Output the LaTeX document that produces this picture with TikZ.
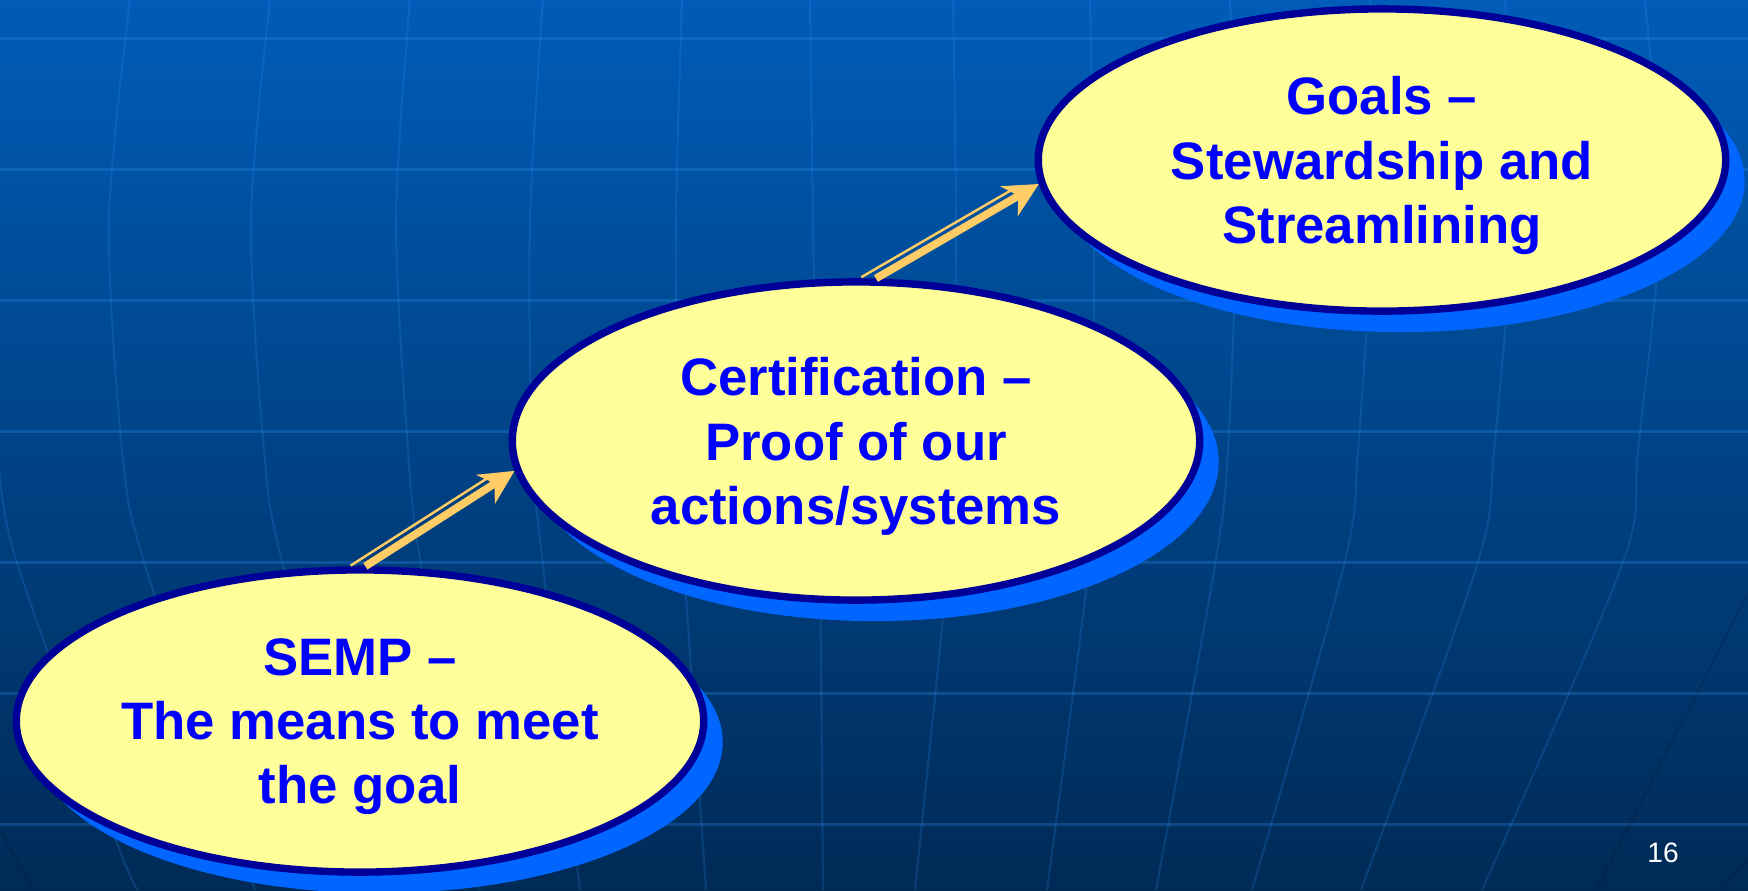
\documentclass[tikz,border=0pt]{standalone}
\usepackage{fontspec}
\setmainfont{Liberation Sans}
\usepackage{tikz}
\usetikzlibrary{shapes.geometric, calc, shadows}
\usetikzlibrary{arrows.meta}
\definecolor{bgtop}{HTML}{005CB8}
\definecolor{bgbot}{HTML}{002A56}
\definecolor{gridblue}{HTML}{3399FF}
\definecolor{ovalfill}{HTML}{FFFF99}
\definecolor{ovalline}{HTML}{000099}
\definecolor{ovalshade}{HTML}{0066FF}
\definecolor{textblue}{HTML}{0000FF}
\definecolor{arrowgold}{HTML}{FFCC66}
\tikzstyle{arrow} = [line width=2.2pt,arrowgold,-{Stealth[length=9.7pt,width=9.7pt,inset=3pt]}]
\tikzstyle{rail} = [line width=0.7pt,arrowgold]

\begin{document}
\begin{tikzpicture}[x=0.01cm, y=-0.01cm,
  grid/.style = {gridblue,opacity=0.25,line width=0.85pt},
  meridian/.style = {gridblue,opacity=0.18,line width=0.6pt},
  darkline/.style = {black,opacity=0.12,line width=0.6pt},
  stage/.style = {ellipse,draw=ovalline,line width=2.1pt,fill=ovalfill,
        minimum width=6.87cm,minimum height=3.02cm,inner sep=0pt,
        drop shadow={shadow xshift=0.19cm,shadow yshift=-0.21cm,fill=ovalshade,opacity=1},
        text=textblue,font=\fontsize{15}{18.3}\selectfont\bfseries,
        align=center,text depth=-3.6pt}]
 \useasboundingbox (0,0) rectangle (1748,890);
 \shade[top color=bgtop,bottom color=bgbot] (0,0) rectangle (1748,890);
 % background grid
 \foreach \y in {38,169,...,824}
   \draw[grid] (0,\y) -- (1748,\y);
 \foreach \a/\b/\c/\d/\e in {130/109/122/145/255, 270/251/264/283/375,
     410/396/408/421/480, 543/530/532/543/580, 682/676/678/684/706,
     810/813/817/820/823, 953/956/954/948/915, 1090/1094/1093/1089/1047,
     1230/1236/1228/1215/1156, 1370/1372/1358/1344/1252,
     1505/1512/1494/1477/1361, 1645/1660/1638/1622/1482}
   \draw[meridian] plot[smooth] coordinates {(\a,0) (\b,220) (\c,450) (\d,565) (\e,890)};
 \draw[meridian] plot[smooth] coordinates {(0,473) (17,563) (117,843) (138,890)};
 \draw[darkline] (0,830) -- (33,890);
 \draw[darkline] (1748,593) -- (1596,890);
 \draw[darkline] (1748,860) -- (1720,890);

 \node[stage] (semp) at (360,721) {SEMP –\\The means to meet\\the goal};
 \node[stage,minimum height=3.18cm] (cert) at (856,441) {Certification –\\Proof of our\\actions/systems};
 \node[stage] (goals) at (1382,160) {Goals –\\Stewardship and\\Streamlining};
 \node[text=white,font=\fontsize{8}{10}\selectfont] (pagenum) at (1663,853) {16};

 \begin{scope}
  \path[arrow]
  (semp.88) edge (cert.185)
  (cert.83) edge (goals.184);
  \draw[rail,shorten <=-0.12cm,shorten >=0.24cm]
    ($(semp.88)!0.085cm!90:(cert.185)$) -- ($(cert.185)!0.085cm!-90:(semp.88)$);
  \draw[rail,shorten <=-0.12cm,shorten >=0.24cm]
    ($(cert.83)!0.085cm!90:(goals.184)$) -- ($(goals.184)!0.085cm!-90:(cert.83)$);
 \end{scope}
\end{tikzpicture}
\end{document}
